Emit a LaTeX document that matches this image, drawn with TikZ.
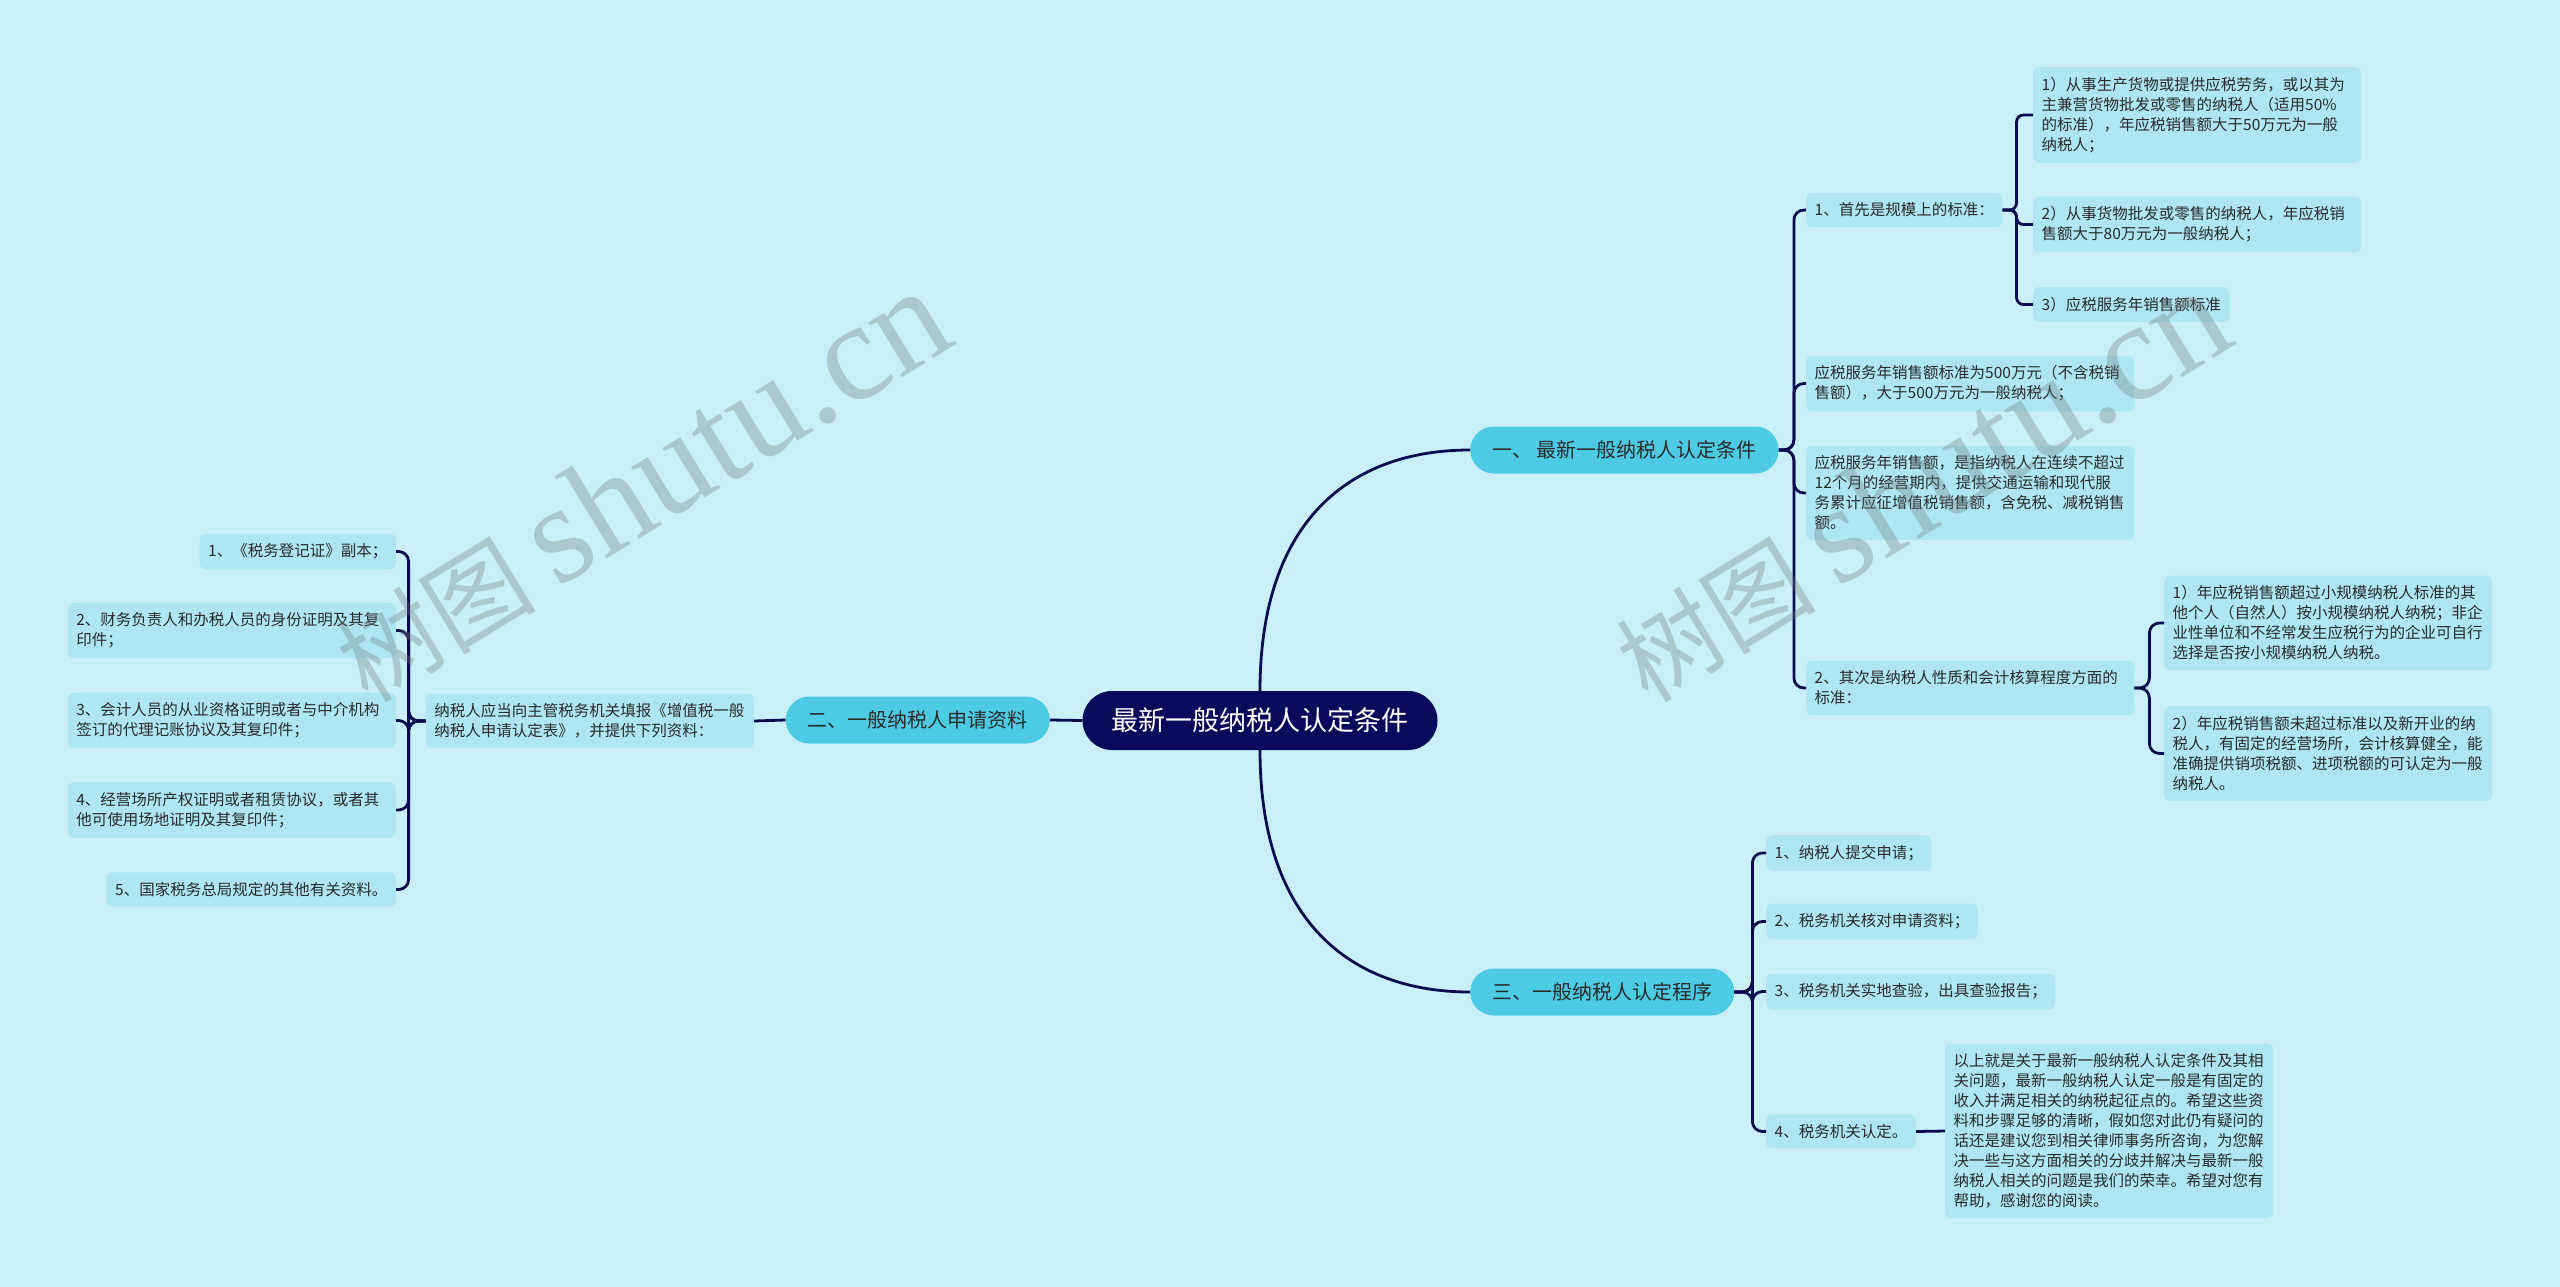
\documentclass[tikz,border=0pt]{standalone}
\usepackage{fontspec}
\setmainfont{Noto Sans CJK SC}
\newfontfamily\wmserif{Liberation Serif}
\usetikzlibrary{positioning}

\definecolor{pagebg}{HTML}{C9F0F8}
\definecolor{rootfill}{HTML}{0A0A5C}
\definecolor{mainfill}{HTML}{4ECBE4}
\definecolor{subfill}{HTML}{AEE7F3}
\definecolor{linkcol}{HTML}{0B0B50}
\definecolor{inkgray}{HTML}{2A2A2A}
\definecolor{wmgray}{HTML}{6E787D}

\begin{document}
\begin{tikzpicture}[
  x=1pt, y=-1pt,
  rootbox/.style={rectangle, fill=rootfill, text=white, rounded corners=29.5pt, minimum height=59pt, inner xsep=29pt, inner ysep=0pt, font=\fontsize{27}{32}\selectfont},
  mainbox/.style={rectangle, fill=mainfill, text=inkgray, rounded corners=23.5pt, minimum height=47pt, inner xsep=22pt, inner ysep=0pt, font=\fontsize{20}{24}\selectfont},
  subbox/.style={rectangle, fill=subfill, text=inkgray, rounded corners=6pt, inner xsep=8.5pt, inner ysep=10pt, align=left, font=\fontsize{15.5}{20}\selectfont},
  widebox/.style={subbox, text width=311pt},
  link/.style={draw=linkcol, line width=2.8pt, rounded corners=10pt},
  wmark/.style={text=wmgray, opacity=0.33, inner sep=0pt, anchor=base west, rotate=31.5, font=\fontsize{100}{100}\selectfont}
]
\useasboundingbox (0,0) rectangle (2560,1287);
\fill[pagebg] (0,0) rectangle (2560,1287);

\node[rootbox] (root) at (1260,720.5) {最新一般纳税人认定条件};
\node[mainbox, anchor=west] (cond) at (1470,450) {一、 最新一般纳税人认定条件};
\node[mainbox, anchor=east] (docs) at (1050,720) {二、一般纳税人申请资料};
\node[mainbox, anchor=west] (steps) at (1470,992) {三、一般纳税人认定程序};

\node[subbox, anchor=west] (scale) at (1806,210) {1、首先是规模上的标准：};
\node[widebox, anchor=west] (rulefive) at (1806,383.5) {应税服务年销售额标准为500万元（不含税销\\售额），大于500万元为一般纳税人；};
\node[widebox, anchor=west] (ruledef) at (1806,493) {应税服务年销售额，是指纳税人在连续不超过\\12个月的经营期内，提供交通运输和现代服\\务累计应征增值税销售额，含免税、减税销售\\额。};
\node[widebox, anchor=west] (nature) at (1806,688) {2、其次是纳税人性质和会计核算程度方面的\\标准：};

\node[widebox, anchor=west] (scaleA) at (2033,115) {1）从事生产货物或提供应税劳务，或以其为\\主兼营货物批发或零售的纳税人（适用50\%\\的标准），年应税销售额大于50万元为一般\\纳税人；};
\node[widebox, anchor=west] (scaleB) at (2033,224.5) {2）从事货物批发或零售的纳税人，年应税销\\售额大于80万元为一般纳税人；};
\node[subbox, anchor=west] (scaleC) at (2033,304.5) {3）应税服务年销售额标准};

\node[widebox, anchor=west] (natA) at (2164,623) {1）年应税销售额超过小规模纳税人标准的其\\他个人（自然人）按小规模纳税人纳税；非企\\业性单位和不经常发生应税行为的企业可自行\\选择是否按小规模纳税人纳税。};
\node[widebox, anchor=west] (natB) at (2164,753.5) {2）年应税销售额未超过标准以及新开业的纳\\税人，有固定的经营场所，会计核算健全，能\\准确提供销项税额、进项税额的可认定为一般\\纳税人。};

\node[widebox, anchor=east] (apply) at (754,721) {纳税人应当向主管税务机关填报《增值税一般\\纳税人申请认定表》，并提供下列资料：};
\node[subbox, anchor=east] (docA) at (396,551.5) {1、《税务登记证》副本；};
\node[widebox, anchor=east] (docB) at (396,630.5) {2、财务负责人和办税人员的身份证明及其复\\印件；};
\node[widebox, anchor=east] (docC) at (396,720.5) {3、会计人员的从业资格证明或者与中介机构\\签订的代理记账协议及其复印件；};
\node[widebox, anchor=east] (docD) at (396,810) {4、经营场所产权证明或者租赁协议，或者其\\他可使用场地证明及其复印件；};
\node[subbox, anchor=east] (docE) at (396,889.5) {5、国家税务总局规定的其他有关资料。};

\node[subbox, anchor=west] (stepA) at (1766,853) {1、纳税人提交申请；};
\node[subbox, anchor=west] (stepB) at (1766,921.5) {2、税务机关核对申请资料；};
\node[subbox, anchor=west] (stepC) at (1766,991.5) {3、税务机关实地查验，出具查验报告；};
\node[subbox, anchor=west] (stepD) at (1766,1131.5) {4、税务机关认定。};
\node[widebox, anchor=west] (summary) at (1945,1131) {以上就是关于最新一般纳税人认定条件及其相\\关问题，最新一般纳税人认定一般是有固定的\\收入并满足相关的纳税起征点的。希望这些资\\料和步骤足够的清晰，假如您对此仍有疑问的\\话还是建议您到相关律师事务所咨询，为您解\\决一些与这方面相关的分歧并解决与最新一般\\纳税人相关的问题是我们的荣幸。希望对您有\\帮助，感谢您的阅读。};

\draw[link] (root.north) .. controls +(0,-170) and +(-120,0) .. (cond.west);
\draw[link] (root.south) .. controls +(0,170) and +(-120,0) .. (steps.west);
\draw[link] (root.west) -- (docs.east);
\draw[link] (docs.west) -- (apply.east);
\draw[link] (stepD.east) -- (summary.west);

\foreach \n in {scale,rulefive,ruledef,nature}
  \draw[link] (cond.east) -- ++(15,0) |- (\n.west);
\foreach \n in {scaleA,scaleB,scaleC}
  \draw[link, rounded corners=7pt] (scale.east) -- ++(14,0) |- (\n.west);
\foreach \n in {natA,natB}
  \draw[link] (nature.east) -- ++(15,0) |- (\n.west);
\foreach \n in {docA,docB,docC,docD,docE}
  \draw[link] (apply.west) -- ++(-17,0) |- (\n.east);
\foreach \n in {stepA,stepB,stepC,stepD}
  \draw[link] (steps.east) -- ++(18,0) |- (\n.west);

\node[wmark] (markleft) at (368,705) {树图 {\wmserif\fontsize{140}{140}\selectfont shutu.cn}};
\node[wmark] (markright) at (1648,705) {树图 {\wmserif\fontsize{140}{140}\selectfont shutu.cn}};
\end{tikzpicture}
\end{document}
